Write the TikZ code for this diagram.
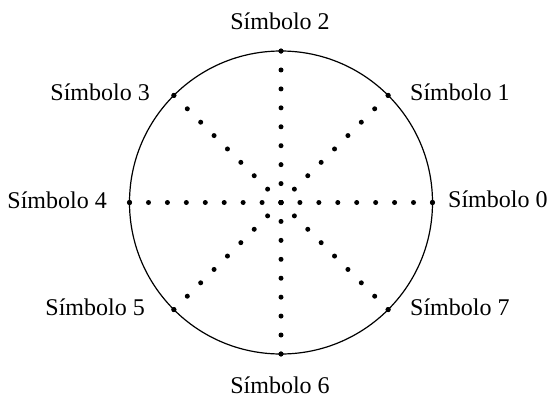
\documentclass[tikz,border=0pt]{standalone}
\usepackage{fontspec}
\setmainfont{Liberation Serif}
\usetikzlibrary{positioning}

\begin{document}
\begin{tikzpicture}[
  x=1pt,y=1pt,
  rim/.style={draw,line width=1.2pt},
  raydots/.style={line width=5pt,line cap=round,dash pattern=on 0pt off 18.93pt},
  symdot/.style={circle,fill,inner sep=0pt,minimum size=5pt},
  symlabel/.style={inner sep=0pt,font=\fontsize{24}{28}\selectfont}
]
  \useasboundingbox (-281,-194.5) rectangle (267,202.5);
  \coordinate (c) at (0,0);
  \draw[rim] (c) circle[radius=151.5];
  % rays to the eight points
  \foreach \k in {0,...,7}{
    \coordinate (s\k) at (45*\k:151.5);
    \draw[raydots] (c) -- (s\k);
    \node[symdot] (d\k) at (s\k) {};
  }
  \node[symlabel,anchor=base west] (l0) at (167,-5) {Símbolo 0};
  \node[symlabel,anchor=base west] (l1) at (129,102.5) {Símbolo 1};
  \node[symlabel,anchor=base] (l2) at (-1,173.5) {Símbolo 2};
  \node[symlabel,anchor=base east] (l3) at (-131,102) {Símbolo 3};
  \node[symlabel,anchor=base east] (l4) at (-174,-5.5) {Símbolo 4};
  \node[symlabel,anchor=base east] (l5) at (-136,-112.5) {Símbolo 5};
  \node[symlabel,anchor=base] (l6) at (-1,-190.5) {Símbolo 6};
  \node[symlabel,anchor=base west] (l7) at (129,-112.5) {Símbolo 7};
\end{tikzpicture}
\end{document}
